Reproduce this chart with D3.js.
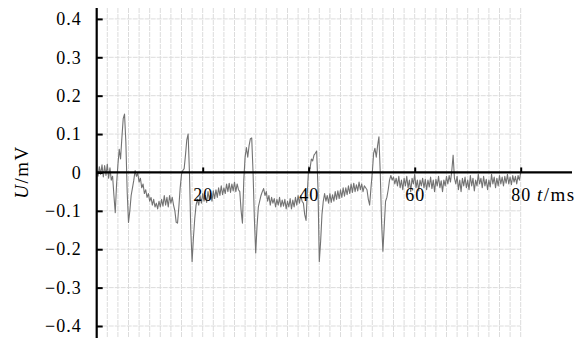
<!DOCTYPE html>
<html>
<head>
<meta charset="utf-8">
<script src="https://cdn.jsdelivr.net/npm/d3@7"></script>
<style>
  body { margin: 0; background: #fff; }
</style>
</head>
<body>
<div id="chart"></div>
<script>
// time step of the trace (ms) and the read-off voltage samples (mV)
const sampleStep = 0.25;
const voltage = [
  0.005, -0.01, 0.015, -0.005,     // 0
  0.02, -0.012, 0.018, -0.008,     // 1
  0.022, -0.015, 0.012, -0.02,     // 2
  -0.01, -0.06, -0.105, -0.03,     // 3
  0.02, 0.06, 0.035, 0.09,         // 4
  0.14, 0.152, 0.08, -0.05,        // 5
  -0.13, -0.1, -0.06, -0.04,       // 6
  -0.02, 0.005, -0.01, -0.002,     // 7
  -0.025, -0.015, -0.04, -0.03,    // 8
  -0.055, -0.045, -0.065, -0.055,  // 9
  -0.075, -0.065, -0.085, -0.07,   // 10
  -0.09, -0.08, -0.095, -0.075,    // 11
  -0.09, -0.07, -0.088, -0.06,     // 12
  -0.085, -0.065, -0.09, -0.06,    // 13
  -0.08, -0.065, -0.085, -0.1,     // 14
  -0.13, -0.132, -0.09, -0.04,     // 15
  -0.005, 0.005, 0.01, 0.045,      // 16
  0.085, 0.1, 0.0, -0.15,          // 17
  -0.232, -0.17, -0.12, -0.085,    // 18
  -0.07, -0.085, -0.06, -0.08,     // 19
  -0.055, -0.075, -0.06, -0.078,   // 20
  -0.05, -0.07, -0.055, -0.075,    // 21
  -0.048, -0.068, -0.045, -0.065,  // 22
  -0.04, -0.06, -0.035, -0.058,    // 23
  -0.04, -0.055, -0.03, -0.05,     // 24
  -0.028, -0.052, -0.03, -0.048,   // 25
  -0.025, -0.05, -0.03, -0.045,    // 26
  -0.05, -0.1, -0.132, -0.02,      // 27
  0.04, 0.065, 0.04, 0.07,         // 28
  0.088, 0.09, 0.0, -0.12,         // 29
  -0.21, -0.14, -0.09, -0.075,     // 30
  -0.06, -0.05, -0.042, -0.06,     // 31
  -0.05, -0.075, -0.06, -0.085,    // 32
  -0.065, -0.08, -0.068, -0.09,    // 33
  -0.07, -0.085, -0.065, -0.09,    // 34
  -0.072, -0.088, -0.07, -0.095,   // 35
  -0.075, -0.09, -0.068, -0.095,   // 36
  -0.072, -0.09, -0.065, -0.085,   // 37
  -0.06, -0.08, -0.06, -0.075,     // 38
  -0.08, -0.11, -0.125, -0.05,     // 39
  0.015, 0.01, 0.035, 0.03,        // 40
  0.045, 0.05, 0.056, -0.04,       // 41
  -0.232, -0.18, -0.11, -0.075,    // 42
  -0.055, -0.075, -0.06, -0.08,    // 43
  -0.055, -0.078, -0.058, -0.075,  // 44
  -0.05, -0.07, -0.048, -0.068,    // 45
  -0.045, -0.065, -0.04, -0.062,   // 46
  -0.04, -0.058, -0.035, -0.055,   // 47
  -0.03, -0.052, -0.028, -0.05,    // 48
  -0.032, -0.048, -0.025, -0.045,  // 49
  -0.03, -0.05, -0.035, -0.04,     // 50
  -0.045, -0.07, -0.085, -0.04,    // 51
  0.0, 0.05, 0.063, 0.04,          // 52
  0.07, 0.093, 0.0, -0.13,         // 53
  -0.205, -0.14, -0.075, -0.065,   // 54
  -0.045, -0.02, -0.008, -0.02,    // 55
  -0.012, -0.03, -0.015, -0.035,   // 56
  -0.01, -0.04, -0.02, -0.045,     // 57
  -0.015, -0.035, -0.01, -0.04,    // 58
  -0.02, -0.05, -0.015, -0.03,     // 59
  -0.005, -0.04, -0.02, -0.048,    // 60
  -0.02, -0.035, -0.015, -0.04,    // 61
  -0.018, -0.045, -0.02, -0.038,   // 62
  -0.012, -0.042, -0.02, -0.05,    // 63
  -0.018, -0.035, -0.01, -0.04,    // 64
  -0.022, -0.05, -0.02, -0.035,    // 65
  -0.01, -0.03, -0.008, -0.025,    // 66
  0.005, 0.045, -0.015, -0.03,     // 67
  -0.01, -0.045, -0.02, -0.05,     // 68
  -0.015, -0.035, -0.012, -0.04,   // 69
  -0.02, -0.045, -0.008, -0.035,   // 70
  -0.015, -0.048, -0.02, -0.035,   // 71
  -0.005, -0.03, -0.015, -0.04,    // 72
  -0.01, -0.035, -0.018, -0.045,   // 73
  -0.02, -0.038, -0.005, -0.03,    // 74
  -0.012, -0.04, -0.015, -0.035,   // 75
  -0.008, -0.03, -0.012, -0.035,   // 76
  -0.01, -0.028, -0.005, -0.03,    // 77
  -0.012, -0.032, -0.008, -0.025,  // 78
  -0.01, -0.03, -0.008, -0.02,     // 79
  0.0                              // 80
];

const xTicks = [20, 40, 60, 80];
const yTicks = [-0.4, -0.3, -0.2, -0.1, 0, 0.1, 0.2, 0.3, 0.4];
const xGrid = d3.range(0, 81, 2);

const serif = "'Liberation Serif'";
const width = 587, height = 338;
const svg = d3.select("#chart").append("svg")
    .attr("width", width)
    .attr("height", height)
    .style("display", "block");

const x = d3.scaleLinear().domain([0, 80]).range([96.7, 520.7]);
const y = d3.scaleLinear().domain([-0.4, 0.4]).range([326, 18.9]);
const plotTop = 8, plotBottom = 338;

// grid
svg.append("g").selectAll("line").data(xGrid).enter().append("line")
    .attr("x1", d => x(d)).attr("x2", d => x(d))
    .attr("y1", plotTop).attr("y2", plotBottom)
    .attr("stroke", "#dcdcdc").attr("stroke-width", 1)
    .attr("stroke-dasharray", "5,1");
svg.append("g").selectAll("line").data(yTicks).enter().append("line")
    .attr("x1", x(0)).attr("x2", x(80))
    .attr("y1", d => y(d)).attr("y2", d => y(d))
    .attr("stroke", "#dcdcdc").attr("stroke-width", 1)
    .attr("stroke-dasharray", "5,1");

// signal
const line = d3.line()
    .x((d, i) => x(i * sampleStep))
    .y(d => y(d));
svg.append("path")
    .datum(voltage)
    .attr("fill", "none")
    .attr("stroke", "#737373")
    .attr("stroke-width", 1.1)
    .attr("stroke-linejoin", "round")
    .attr("d", line);

// y axis
const yAxis = svg.append("g")
    .attr("transform", `translate(${x(0)},0)`)
    .call(d3.axisLeft(y)
        .tickValues(yTicks)
        .tickSizeInner(-6).tickSizeOuter(0)
        .tickPadding(15)
        .tickFormat(d => d === 0 ? "0" : d3.format(".1f")(d)));
yAxis.select(".domain").remove();
yAxis.selectAll(".tick line").attr("stroke", "#000").attr("stroke-width", 2);
yAxis.selectAll(".tick text")
    .style("font-family", serif)
    .style("font-size", "18px")
    .attr("letter-spacing", 1)
    .attr("fill", "#000");
svg.append("line")
    .attr("x1", x(0)).attr("x2", x(0))
    .attr("y1", plotTop).attr("y2", plotBottom)
    .attr("stroke", "#000").attr("stroke-width", 2.2);

// x axis
const xAxis = svg.append("g")
    .attr("transform", `translate(0,${y(0)})`)
    .call(d3.axisBottom(x)
        .tickValues(xTicks)
        .tickSizeInner(-5).tickSizeOuter(0)
        .tickPadding(16));
xAxis.select(".domain").remove();
xAxis.selectAll(".tick line").attr("stroke", "#000").attr("stroke-width", 2);
xAxis.selectAll(".tick text")
    .style("font-family", serif)
    .style("font-size", "18px")
    .attr("letter-spacing", 1)
    .attr("fill", "#000");
svg.append("line")
    .attr("x1", x(0)).attr("x2", 572)
    .attr("y1", y(0)).attr("y2", y(0))
    .attr("stroke", "#000").attr("stroke-width", 2.2);

// axis titles
const xt = svg.append("text")
    .attr("x", 537).attr("y", 201)
    .style("font-family", serif)
    .style("font-size", "19px")
    .attr("letter-spacing", 1.5)
    .attr("fill", "#000");
xt.append("tspan").style("font-style", "italic").text("t");
xt.append("tspan").text("/ms");

const yt = svg.append("text")
    .attr("transform", "translate(28,172) rotate(-90)")
    .attr("text-anchor", "middle")
    .style("font-family", serif)
    .style("font-size", "19px")
    .attr("letter-spacing", 1.5)
    .attr("fill", "#000");
yt.append("tspan").style("font-style", "italic").text("U");
yt.append("tspan").text("/mV");
</script>
</body>
</html>
